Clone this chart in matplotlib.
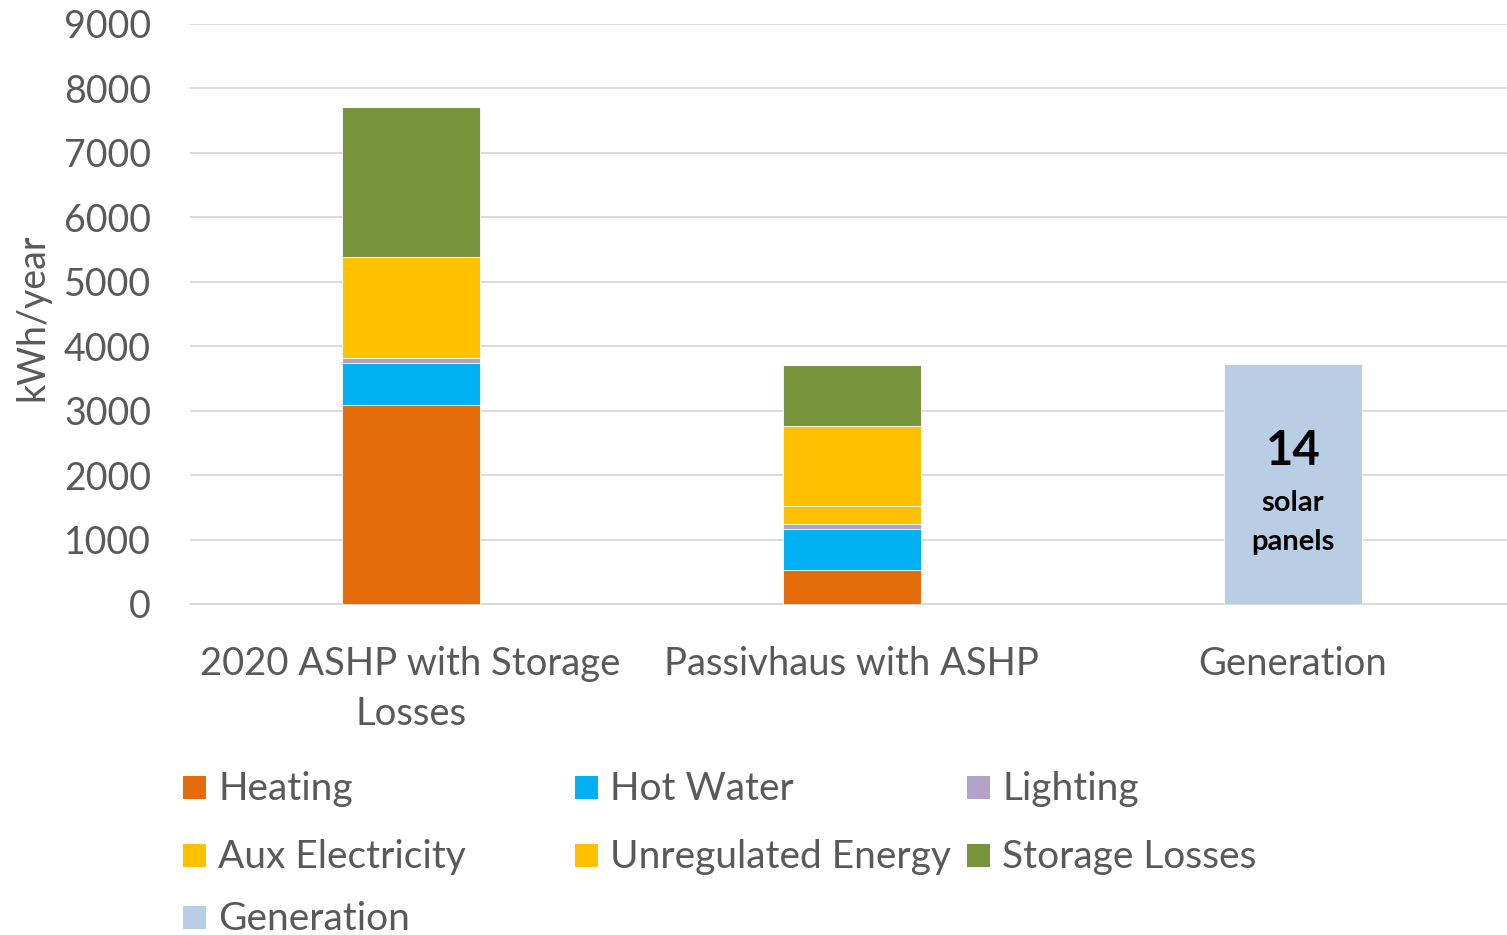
import matplotlib
matplotlib.use("Agg")
import matplotlib.pyplot as plt
import numpy as np
from matplotlib.patches import Rectangle

plt.rcParams['font.family'] = ['Lato', 'DejaVu Sans']

categories = ["2020 ASHP with Storage\nLosses", "Passivhaus with ASHP", "Generation"]
heating = [3090, 530, 0]
hot_water = [655, 635, 0]
lighting = [77, 77, 0]
aux_electricity = [0, 280, 0]
unregulated = [1563, 1240, 0]
storage_losses = [2328, 947, 0]
generation = [0, 0, 3724]

series = [
    ("Heating", heating, "#E46C0A"),
    ("Hot Water", hot_water, "#00B0F0"),
    ("Lighting", lighting, "#B3A2C7"),
    ("Aux Electricity", aux_electricity, "#FFC000"),
    ("Unregulated Energy", unregulated, "#FFC000"),
    ("Storage Losses", storage_losses, "#77933C"),
    ("Generation", generation, "#B9CDE5"),
]

W, H = 1507, 935
fig = plt.figure(figsize=(W / 100, H / 100), dpi=100)
ax = fig.add_axes([190 / W, 1 - 604 / H, (W - 190) / W, (604 - 24) / H])

x = np.arange(len(categories))
bottom = np.zeros(len(categories))
for name, vals, col in series:
    vals = np.array(vals, dtype=float)
    ax.bar(x, vals, width=0.313, bottom=bottom, color=col, edgecolor='white', linewidth=0.6, zorder=3)
    bottom += vals

ax.set_xlim(-0.5, 2.485)
ax.set_ylim(0, 9000)
ax.set_yticks(np.arange(0, 9001, 1000))
ax.tick_params(axis='y', labelsize=27, labelcolor='#595959', length=0, pad=28)
ax.tick_params(axis='x', labelsize=27.5, labelcolor='#595959', length=0, pad=30)
ax.set_xticks(x)
ax.set_xticklabels(categories, linespacing=1.5, va='top')
ax.grid(axis='y', color='#D9D9D9', linewidth=1.3, zorder=0)
for s in ['top', 'right', 'left']:
    ax.spines[s].set_visible(False)
ax.spines['bottom'].set_color('#D9D9D9')
ax.spines['bottom'].set_linewidth(1.3)
ax.set_ylabel("kWh/year", fontsize=27, color='#595959')
ax.yaxis.set_label_coords(-0.106, 0.495)

# annotation in generation bar
ax.text(2, 2380, "14", ha='center', va='center', fontsize=34, fontweight='bold', color='black', zorder=4)
ax.text(2, 1570, "solar", ha='center', va='center', fontsize=21, fontweight='bold', color='black', zorder=4)
ax.text(2, 960, "panels", ha='center', va='center', fontsize=21, fontweight='bold', color='black', zorder=4)

# legend laid out in a fixed grid (row-major, 3 columns)
col_x = [183, 575, 967]
row_y = [787, 855, 917]
sq = 23
for i, (name, vals, col) in enumerate(series):
    r, c = divmod(i, 3)
    cx, cy = col_x[c], row_y[r]
    fig.patches.append(Rectangle((cx / W, 1 - (cy + sq / 2) / H), sq / W, sq / H,
                                 transform=fig.transFigure, facecolor=col, edgecolor='none'))
    fig.text((cx + 35) / W, 1 - (cy + 2) / H, name, fontsize=28, color='#595959', va='center', ha='left')

fig.savefig("out.png", dpi=100)
